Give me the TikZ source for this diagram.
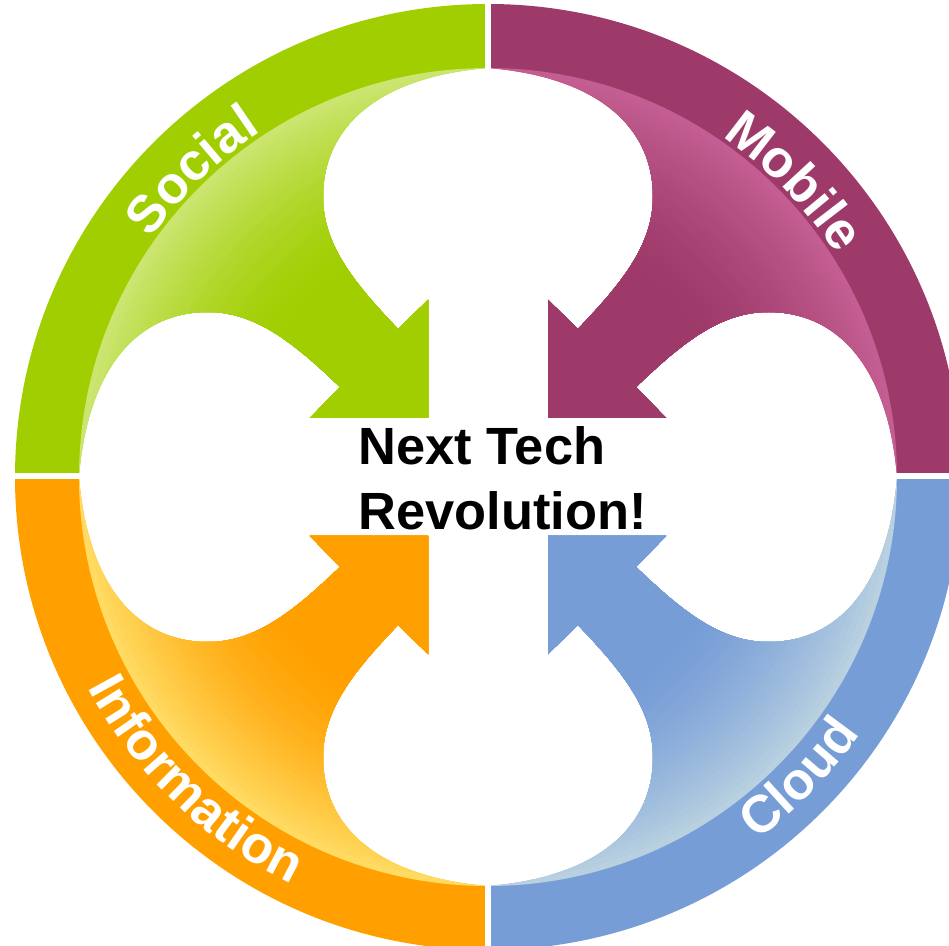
\documentclass[tikz,border=0pt]{standalone}
\usepackage{fontspec}
\setmainfont{Liberation Sans}
\usetikzlibrary{decorations.text}

\definecolor{socialgreen}{HTML}{A0CE00}
\definecolor{sociallight}{HTML}{CBE570}
\definecolor{mobileplum}{HTML}{9E3A6A}
\definecolor{mobilelight}{HTML}{C45E92}
\definecolor{infoorange}{HTML}{FFA000}
\definecolor{infolight}{HTML}{FFDB62}
\definecolor{cloudblue}{HTML}{779DD7}
\definecolor{cloudlight}{HTML}{B8D0E0}

\newcommand{\ringfont}{\fontsize{14.9}{18}\selectfont\bfseries}
% top-left quarter: ring piece plus curved arrow, the others are mirrored
\newcommand{\quarterpath}{(0,473) arc (90:180:473) -- (-409,0)
  .. controls (-400,110) and (-350,165) .. (-280,165)
  .. controls (-230,165) and (-190,130) .. (-148,90)
  -- (-178,59) -- (-60,59) -- (-60,177) -- (-90,148)
  .. controls (-130,190) and (-165,230) .. (-165,280)
  .. controls (-165,350) and (-110,400) .. (0,409) -- cycle}

\tikzset{
  ringlabel/.style={decorate, decoration={text along path, text={|\ringfont|#1}, text align=center, text color=white}},
  gapbar/.style={fill=white},
  centretext/.style={anchor=west, align=left, inner sep=0pt, font=\fontsize{14.9}{18.45}\selectfont\bfseries}
}

\begin{document}
\begin{tikzpicture}[scale=0.01]
    \useasboundingbox (-488,-469) rectangle (461,477);
    \clip (-488,-469) rectangle (461,477);

    \foreach \xs/\ys/\base/\light in {1/1/socialgreen/sociallight, -1/1/mobileplum/mobilelight, 1/-1/infoorange/infolight, -1/-1/cloudblue/cloudlight} {
      \begin{scope}[xscale=\xs, yscale=\ys]
        \fill[\base] \quarterpath;
        % glow along the inner edge of the ring
        \begin{scope}
          \clip \quarterpath;
          \foreach \i in {0,...,26} {
            \pgfmathtruncatemacro{\pct}{100*((26-\i)/26)^1.5}
            \fill[\light!\pct!\base] (0,0) circle ({409-6.1*\i});
          }
        \end{scope}
      \end{scope}
    }

    \fill[gapbar] (-3,380) rectangle (3,480);
    \fill[gapbar] (-3,-380) rectangle (3,-480);
    \fill[gapbar] (-480,-2) rectangle (-380,4);
    \fill[gapbar] (380,-2) rectangle (480,4);

    \path[ringlabel=Social] (164:413) arc (164:104:413);
    \path[ringlabel=Mobile] (74:413) arc (74:14:413);
    \path[ringlabel=Information] (-174:452) arc (-174:-94:452);
    \path[ringlabel=Cloud] (-74:452) arc (-74:-14:452);

    \node[centretext] (headline) at (-130,-1) {Next Tech\\Revolution!};
\end{tikzpicture}
\end{document}
